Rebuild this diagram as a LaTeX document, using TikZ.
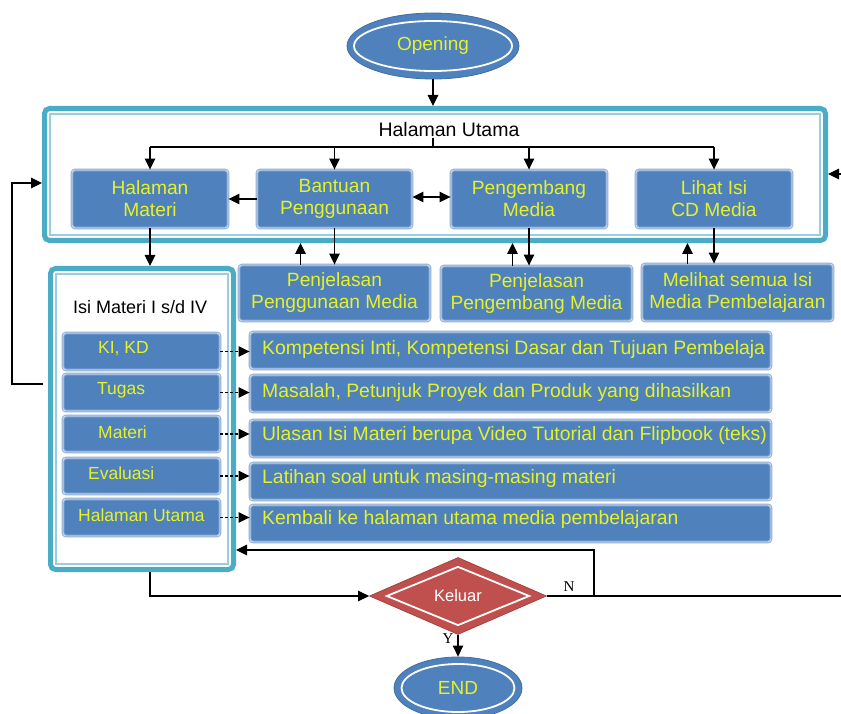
\documentclass[tikz,border=0pt]{standalone}
\usepackage{fontspec}
\setmainfont{Liberation Sans}
\newfontfamily\serifnf{Liberation Serif}
\usetikzlibrary{shapes.geometric,arrows.meta,calc}
\definecolor{obl}{RGB}{79,129,189}
\definecolor{oedge}{RGB}{140,172,214}
\definecolor{oteal}{RGB}{75,172,198}
\definecolor{oteall}{RGB}{150,208,224}
\definecolor{ored}{RGB}{192,80,77}
\definecolor{oyel}{RGB}{230,242,40}
\tikzset{
  arr/.style={-{Triangle[length=11pt,width=10.5pt]}, line width=1.2pt},
  dbl/.style={{Triangle[length=11pt,width=10.5pt]}-{Triangle[length=11pt,width=10.5pt]}, line width=1.2pt},
  darr/.style={-{Triangle[length=11pt,width=10.5pt]}, line width=1.2pt, dash pattern=on 3pt off 2pt},
  bbox/.style={draw=oedge, line width=0.9pt, double=white!70!obl, double distance=0.9pt,
    fill=obl, rounded corners=3pt, text=oyel, align=center, inner sep=0pt,
    font=\fontsize{19.2}{22}\selectfont},
  tframe/.style={draw=oteal, line width=5pt, rounded corners=5pt, inner sep=0pt},
  tinner/.style={draw=oteall, line width=1.8pt, inner sep=0pt},
  ell/.style={ellipse, fill=obl, draw=obl!85!black, line width=0.8pt, inner sep=0pt,
    text=oyel, font=\fontsize{19}{22}\selectfont},
  elli/.style={ellipse, draw=white, line width=1.8pt, inner sep=0pt},
  dia/.style={diamond, aspect=2.3, fill=ored, draw=ored!85!black, line width=0.8pt, inner sep=0pt,
    text=white, font=\fontsize{16.5}{20}\selectfont},
  diai/.style={diamond, aspect=2.3, draw=white, line width=1.8pt, inner sep=0pt},
  ytxt/.style={text=oyel, inner sep=0pt, anchor=west},
  stxt/.style={ytxt, font=\fontsize{17.5}{20}\selectfont},
  ltxt/.style={ytxt, font=\fontsize{19.4}{22}\selectfont},
  sertxt/.style={inner sep=0pt, font=\serifnf\fontsize{15}{18}\selectfont},
}
\begin{document}
\begin{tikzpicture}[x=1pt,y=-1pt]
\useasboundingbox (0,0) rectangle (841,714);

% Opening
\node[ell, minimum width=172pt, minimum height=66pt] (op) at (433,46) {Opening};
\node[elli, minimum width=158pt, minimum height=50pt] (opi) at (433,46) {};

% Halaman Utama frame
\node[tframe, minimum width=781pt, minimum height=132pt] (hu) at (435,174.5) {};
\node[tinner, minimum width=770pt, minimum height=121pt] (hui) at (435,174.5) {};
\node[font=\fontsize{19.5}{22}\selectfont, inner sep=0pt] (ht) at (449,130) {Halaman Utama};

\node[bbox, minimum width=156pt, minimum height=58pt] (hm) at (150,199) {Halaman\\Materi};
\node[bbox, minimum width=155pt, minimum height=58pt] (bp) at (334.5,199) {Bantuan\\Penggunaan};
\node[bbox, minimum width=156pt, minimum height=58pt] (pm) at (529,199) {Pengembang\\Media};
\node[bbox, minimum width=156pt, minimum height=58pt] (lc) at (714,199) {Lihat Isi\\CD Media};

% Penjelasan boxes
\node[bbox, minimum width=191pt, minimum height=56pt] (pj1) at (334.5,293) {Penjelasan\\Penggunaan Media};
\node[bbox, minimum width=191pt, minimum height=55pt] (pj2) at (536.5,293.5) {Penjelasan\\Pengembang Media};
\node[bbox, minimum width=191pt, minimum height=57pt] (pj3) at (737.5,292.5) {Melihat semua Isi\\Media Pembelajaran};

% Isi Materi frame
\node[tframe, minimum width=183pt, minimum height=301pt] (isi) at (142,419) {};
\node[tinner, minimum width=172pt, minimum height=290pt] (isii) at (142,419) {};
\node[font=\fontsize{18}{21}\selectfont, inner sep=0pt, anchor=west] (it) at (73,307) {Isi Materi I s/d IV};

% small boxes
\node[bbox, minimum width=157pt, minimum height=37pt] (sb1) at (141.5,351.5) {};
\node[bbox, minimum width=157pt, minimum height=37pt] (sb2) at (141.5,392.5) {};
\node[bbox, minimum width=157pt, minimum height=36pt] (sb3) at (141.5,434) {};
\node[bbox, minimum width=157pt, minimum height=36pt] (sb4) at (141.5,476) {};
\node[bbox, minimum width=157pt, minimum height=37pt] (sb5) at (141.5,517.5) {};
\node[stxt] (st1) at (98,349) {KI, KD};
\node[stxt] (st2) at (97,390) {Tugas};
\node[stxt] (st3) at (98,432) {Materi};
\node[stxt] (st4) at (88,473) {Evaluasi};
\node[stxt] (st5) at (78,515) {Halaman Utama};

% long boxes
\node[bbox, minimum width=521pt, minimum height=37pt] (lb1) at (510.5,350.5) {};
\node[bbox, minimum width=521pt, minimum height=37pt] (lb2) at (510.5,393.5) {};
\node[bbox, minimum width=521pt, minimum height=37pt] (lb3) at (510.5,438.5) {};
\node[bbox, minimum width=521pt, minimum height=37pt] (lb4) at (510.5,481.5) {};
\node[bbox, minimum width=521pt, minimum height=37pt] (lb5) at (510.5,523.5) {};
\node[ltxt] (lt1) at (262,349) {Kompetensi Inti, Kompetensi Dasar dan Tujuan Pembelaja};
\node[ltxt] (lt2) at (262,392) {Masalah, Petunjuk Proyek dan Produk yang dihasilkan};
\node[ltxt] (lt3) at (262,435) {Ulasan Isi Materi berupa Video Tutorial dan Flipbook (teks)};
\node[ltxt] (lt4) at (262,478) {Latihan soal untuk masing-masing materi};
\node[ltxt] (lt5) at (262,519) {Kembali ke halaman utama media pembelajaran};

% Keluar and END
\node[dia, minimum width=177pt, minimum height=77pt] (kel) at (458,596) {Keluar};
\node[diai, minimum width=143pt, minimum height=59pt] (keli) at (458,596) {};
\node[ell, minimum width=128pt, minimum height=62pt] (end) at (458,688) {END};
\node[elli, minimum width=113pt, minimum height=48pt] (endi) at (458,688) {};

\node[sertxt] (nl) at (569,587) {N};
\node[sertxt] (yl) at (448,639) {Y};

% connectors
\draw[arr] (op.south) -- (op.south |- hu.north);
\coordinate (tk) at (433,138);
\coordinate (hb) at (433,147);
\draw[line width=1.2pt] (tk) -- (hb);
\draw[line width=1.2pt] (hm.north |- hb) -- (lc.north |- hb);
\foreach \n in {hm,bp,pm,lc} \draw[arr] (\n.north |- hb) -- (\n.north);
\draw[arr] (bp.west) -- (hm.east);
\draw[dbl] ([yshift=2pt]bp.east) -- ([yshift=2pt]pm.west);

\draw[arr] (hm.south) -- (hm.south |- isi.north);
\draw[arr] (bp.south) -- (bp.south |- pj1.north);
\draw[arr] ([xshift=-34pt]pj1.north) -- ([xshift=-34pt]pj1.north |- hu.south);
\draw[arr] (pm.south) -- (pm.south |- pj2.north);
\draw[arr] ([xshift=-24pt]pj2.north) -- ([xshift=-24pt]pj2.north |- hu.south);
\draw[arr] (lc.south) -- (lc.south |- pj3.north);
\draw[arr] ([xshift=-50pt]pj3.north) -- ([xshift=-50pt]pj3.north |- hu.south);

\draw[darr] (sb1.east) -- (sb1.east -| lb1.west);
\draw[darr] (sb2.east) -- (sb2.east -| lb2.west);
\draw[darr] (sb3.east) -- (sb3.east -| lb3.west);
\draw[darr] (sb4.east) -- (sb4.east -| lb4.west);
\draw[darr] (sb5.east) -- (sb5.east -| lb5.west);

\coordinate (lb) at (43,384);
\coordinate (lc1) at (12,384);
\coordinate (lc2) at (12,183);
\draw[arr] (lb) -- (lc1) -- (lc2) -- (lc2 -| hu.west);

\coordinate (rt) at (841,174);
\draw[arr] (rt) -- (rt -| hu.east);

\draw[arr] ([xshift=8pt]isi.south) |- (kel.west);
\coordinate (rb) at (841,596);
\draw[line width=1.2pt] (kel.east) -- (rb);
\coordinate (nc) at (594,596);
\coordinate (nt) at (594,550);
\draw[arr] (nc) -- (nt) -- (nt -| isi.east);
\draw[arr] (kel.south) -- (end.north);
\end{tikzpicture}
\end{document}
